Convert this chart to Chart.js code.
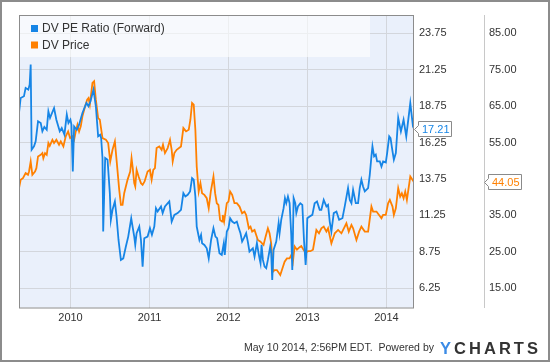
<!DOCTYPE html>
<html>
<head>
<meta charset="utf-8">
<title>DV PE Ratio (Forward) / DV Price</title>
<script src="https://cdn.jsdelivr.net/npm/chart.js@4.4.0/dist/chart.umd.min.js"></script>
<style>
  html, body { margin: 0; padding: 0; background: #fff; }
  #wrap { width: 550px; height: 362px; }
</style>
</head>
<body>
<div id="wrap"><canvas id="grafico" width="550" height="362"></canvas></div>
<script>
// ========== Dados ==========

// datas em anos decimais (2010.0 = 1 jan 2010)
const peDates = [2009.348,2009.369,2009.411,2009.432,2009.466,2009.483,2009.496,2009.508,2009.538,2009.559,2009.589,2009.623,2009.644,2009.669,2009.699,2009.720,2009.741,2009.792,2009.821,2009.864,2009.889,2009.923,2009.953,2009.974,2009.999,2010.012,2010.029,2010.046,2010.080,2010.109,2010.151,2010.202,2010.228,2010.253,2010.291,2010.321,2010.350,2010.376,2010.388,2010.405,2010.414,2010.439,2010.469,2010.498,2010.511,2010.532,2010.562,2010.583,2010.608,2010.638,2010.668,2010.701,2010.731,2010.769,2010.786,2010.807,2010.820,2010.837,2010.871,2010.892,2010.913,2010.934,2010.976,2011.006,2011.031,2011.061,2011.082,2011.103,2011.146,2011.167,2011.196,2011.251,2011.281,2011.315,2011.357,2011.399,2011.429,2011.454,2011.484,2011.514,2011.539,2011.560,2011.581,2011.598,2011.632,2011.653,2011.666,2011.695,2011.725,2011.750,2011.780,2011.810,2011.835,2011.856,2011.886,2011.915,2011.941,2011.953,2011.979,2012.000,2012.021,2012.047,2012.076,2012.106,2012.131,2012.152,2012.173,2012.195,2012.224,2012.245,2012.266,2012.288,2012.309,2012.330,2012.360,2012.381,2012.393,2012.406,2012.419,2012.436,2012.457,2012.478,2012.499,2012.529,2012.541,2012.554,2012.571,2012.605,2012.635,2012.647,2012.668,2012.698,2012.715,2012.732,2012.753,2012.774,2012.795,2012.808,2012.825,2012.846,2012.859,2012.880,2012.910,2012.935,2012.956,2012.977,2012.986,2012.998,2013.028,2013.062,2013.091,2013.121,2013.155,2013.176,2013.206,2013.240,2013.261,2013.282,2013.303,2013.333,2013.367,2013.401,2013.443,2013.472,2013.514,2013.536,2013.557,2013.578,2013.612,2013.641,2013.662,2013.683,2013.704,2013.726,2013.768,2013.789,2013.810,2013.823,2013.844,2013.865,2013.882,2013.916,2013.937,2013.958,2013.992,2014.009,2014.035,2014.052,2014.077,2014.094,2014.119,2014.149,2014.183,2014.217,2014.251,2014.302,2014.336,2014.349];
const peValues = [18.28,19.31,19.43,20.00,19.88,20.23,21.60,15.76,15.99,16.33,17.71,17.59,17.02,17.32,17.13,18.39,17.94,18.62,17.82,17.02,17.25,16.79,18.17,17.59,17.82,17.48,14.27,17.36,17.13,17.48,18.28,18.97,18.74,19.08,19.88,18.74,16.68,16.79,16.56,15.19,10.15,15.19,15.07,12.78,10.95,11.64,12.21,11.18,9.57,8.20,8.31,9.12,9.80,11.06,10.49,9.80,9.23,10.03,10.49,9.57,7.74,9.69,9.80,10.38,9.92,10.49,11.75,11.52,11.87,11.41,11.87,12.21,10.83,11.29,11.41,11.64,12.78,12.55,12.67,12.90,13.81,13.70,12.55,10.49,9.57,9.92,9.35,9.23,9.00,8.31,9.57,10.38,9.80,9.69,8.66,8.54,9.35,8.54,10.15,10.38,11.06,10.83,10.72,10.83,10.38,10.03,9.46,9.69,10.03,9.46,8.77,8.89,9.00,8.43,9.35,8.66,8.31,7.97,9.23,8.20,7.74,7.63,8.20,9.12,8.66,6.83,8.89,9.46,10.72,10.03,10.95,11.75,12.44,12.09,12.55,12.09,9.92,7.51,12.44,12.09,11.41,11.87,12.09,11.98,9.57,7.86,8.66,11.06,11.18,11.29,12.09,12.21,11.64,11.64,12.32,11.87,11.98,10.83,10.15,11.41,11.52,10.95,11.06,11.87,13.13,12.32,12.09,13.01,12.09,12.09,13.13,13.70,13.24,12.90,13.13,14.04,15.30,15.99,15.30,15.42,14.96,14.96,14.61,14.96,14.89,15.53,16.68,16.56,15.65,15.07,15.53,17.94,17.01,17.82,16.67,18.96,17.36,17.21];

const priceDates = [2009.348,2009.369,2009.398,2009.432,2009.462,2009.475,2009.496,2009.517,2009.551,2009.568,2009.589,2009.623,2009.644,2009.656,2009.678,2009.699,2009.720,2009.737,2009.771,2009.792,2009.821,2009.855,2009.877,2009.910,2009.940,2009.970,2009.995,2010.024,2010.046,2010.067,2010.088,2010.109,2010.130,2010.151,2010.185,2010.211,2010.228,2010.245,2010.278,2010.299,2010.321,2010.350,2010.371,2010.405,2010.448,2010.477,2010.503,2010.532,2010.562,2010.583,2010.617,2010.638,2010.659,2010.680,2010.722,2010.756,2010.773,2010.786,2010.807,2010.820,2010.837,2010.862,2010.892,2010.913,2010.938,2010.976,2011.006,2011.027,2011.048,2011.069,2011.090,2011.124,2011.154,2011.171,2011.196,2011.230,2011.260,2011.281,2011.294,2011.315,2011.344,2011.399,2011.429,2011.463,2011.497,2011.518,2011.539,2011.560,2011.581,2011.598,2011.623,2011.645,2011.666,2011.695,2011.725,2011.750,2011.776,2011.810,2011.831,2011.852,2011.873,2011.894,2011.920,2011.928,2011.945,2011.979,2012.000,2012.021,2012.047,2012.076,2012.106,2012.140,2012.173,2012.203,2012.224,2012.258,2012.279,2012.300,2012.330,2012.372,2012.406,2012.444,2012.470,2012.499,2012.520,2012.541,2012.563,2012.584,2012.613,2012.656,2012.690,2012.711,2012.740,2012.774,2012.795,2012.816,2012.838,2012.867,2012.901,2012.922,2012.952,2012.977,2013.007,2013.037,2013.070,2013.091,2013.113,2013.146,2013.176,2013.206,2013.240,2013.261,2013.303,2013.346,2013.388,2013.430,2013.493,2013.523,2013.557,2013.578,2013.620,2013.654,2013.683,2013.726,2013.768,2013.810,2013.831,2013.874,2013.937,2013.958,2013.992,2014.021,2014.043,2014.077,2014.094,2014.119,2014.149,2014.174,2014.195,2014.217,2014.238,2014.259,2014.302,2014.344,2014.349];
const priceValues = [42.48,44.77,45.23,46.61,46.15,47.06,49.81,46.15,47.06,47.98,51.19,51.65,52.11,50.73,52.11,51.65,54.86,54.12,55.77,54.86,55.77,54.40,55.31,53.94,56.69,58.06,56.23,56.69,55.77,58.06,59.90,58.06,59.44,62.19,64.94,66.77,67.23,65.40,71.35,71.81,66.77,61.73,61.27,56.23,55.77,54.86,49.81,53.02,55.31,50.27,42.02,37.90,37.90,41.11,44.77,47.06,50.73,48.44,43.86,42.94,47.52,45.69,43.86,43.40,44.32,47.06,47.52,44.77,47.52,47.98,53.48,53.94,53.02,54.40,52.11,53.48,55.77,53.02,49.81,52.11,53.02,53.94,58.98,58.06,58.52,61.27,65.86,65.40,58.52,48.44,41.56,43.86,41.11,40.65,39.73,36.98,41.56,45.69,41.11,38.36,37.90,33.77,33.32,35.15,33.32,38.36,38.82,41.56,40.65,38.36,38.36,37.44,35.61,36.07,35.15,31.48,31.94,30.57,31.02,28.27,27.82,26.90,29.19,31.48,30.11,27.36,19.57,20.03,20.03,18.65,20.94,22.32,23.23,23.23,24.15,22.32,26.50,25.60,26.30,26.60,25.50,24.80,25.20,25.20,25.60,28.27,31.02,30.11,31.48,31.94,30.57,31.48,27.36,30.11,31.02,30.11,32.86,30.57,32.40,31.48,28.27,30.57,31.94,30.57,30.57,37.44,36.07,36.07,34.23,35.15,35.15,38.36,39.27,37.44,35.15,36.98,42.48,40.19,41.10,39.73,41.56,39.27,45.68,44.31,44.05];

const seriesNames = ['DV PE Ratio (Forward)', 'DV Price'];
const seriesColors = ['#1685e6', '#ff8000'];

const yearTicks = [2010, 2011, 2012, 2013, 2014];
const yearLabels = ['2010', '2011', '2012', '2013', '2014'];
const peTicks = [6.25, 8.75, 11.25, 13.75, 16.25, 18.75, 21.25, 23.75];
const priceTicks = [15, 25, 35, 45, 55, 65, 75, 85];

const footerText = 'May 10 2014, 2:56PM EDT.  Powered by';
const logoText = 'YCHARTS';

// ========== Desenho auxiliar ==========

const FONTE = '"Liberation Sans", Arial, sans-serif';
Chart.defaults.font.family = FONTE;

function toPoints(xs, ys) {
  return xs.map((x, i) => ({ x: x, y: ys[i] }));
}

// etiqueta com seta apontando para a esquerda
function desenharEtiqueta(ctx, xTip, yValor, texto, cor) {
  const yc = Math.round(yValor) + 0.5;
  const bx = Math.round(xTip) + 4.5;
  const w = 33;
  const topo = yc - 8, base = yc + 7;
  ctx.save();
  ctx.beginPath();
  ctx.moveTo(bx - 4, yc);
  ctx.lineTo(bx, yc - 4);
  ctx.lineTo(bx, topo);
  ctx.lineTo(bx + w, topo);
  ctx.lineTo(bx + w, base);
  ctx.lineTo(bx, base);
  ctx.lineTo(bx, yc + 4);
  ctx.closePath();
  ctx.fillStyle = '#ffffff';
  ctx.fill();
  ctx.strokeStyle = '#8a8a8a';
  ctx.lineWidth = 1;
  ctx.stroke();
  ctx.fillStyle = cor;
  ctx.font = '11px ' + FONTE;
  ctx.textAlign = 'left';
  ctx.textBaseline = 'middle';
  ctx.fillText(texto, bx + 3.5, yc);
  ctx.restore();
}

const fundoPlugin = {
  id: 'fundo',
  beforeDraw(chart) {
    const { ctx, chartArea: a } = chart;
    ctx.save();
    ctx.fillStyle = '#ffffff';
    ctx.fillRect(0, 0, chart.width, chart.height);
    ctx.fillStyle = '#eaf0fb';
    ctx.fillRect(a.left, a.top, a.right - a.left, a.bottom - a.top);
    ctx.restore();
  },
  beforeDatasetsDraw(chart) {
    // caixa da legenda dentro da area do grafico
    const { ctx, chartArea: a } = chart;
    ctx.save();
    ctx.fillStyle = 'rgba(255,255,255,0.6)';
    ctx.fillRect(a.left, a.top, 370 - a.left, 42);
    ctx.font = '12px ' + FONTE;
    ctx.textBaseline = 'middle';
    ctx.textAlign = 'left';
    chart.data.datasets.forEach((ds, i) => {
      const y = a.top + 10 + i * 16.5;
      ctx.fillStyle = ds.borderColor;
      ctx.fillRect(31, y, 7, 7);
      ctx.fillStyle = '#333333';
      ctx.fillText(ds.label, 42, y + 4);
    });
    ctx.restore();
  },
  afterDraw(chart) {
    const { ctx, chartArea: a } = chart;
    ctx.save();
    // moldura da area do grafico
    ctx.strokeStyle = '#8c8c8c';
    ctx.lineWidth = 1;
    ctx.strokeRect(a.left + 0.5, a.top + 0.5, a.right - a.left - 1, a.bottom - a.top);

    // etiquetas do ultimo valor
    const yPe = chart.scales.y;
    const yPrice = chart.scales.y1;
    const ultPe = peValues[peValues.length - 1];
    const ultPrice = priceValues[priceValues.length - 1];
    desenharEtiqueta(ctx, a.right, yPe.getPixelForValue(ultPe), ultPe.toFixed(2), seriesColors[0]);
    desenharEtiqueta(ctx, yPrice.left, yPrice.getPixelForValue(ultPrice), ultPrice.toFixed(2), seriesColors[1]);

    // rodape
    ctx.fillStyle = '#333333';
    ctx.font = '11px ' + FONTE;
    ctx.textAlign = 'right';
    ctx.textBaseline = 'middle';
    ctx.fillText(footerText, 434, 348, 190);

    // logo
    ctx.font = 'bold 16.5px ' + FONTE;
    ctx.textAlign = 'left';
    ctx.textBaseline = 'alphabetic';
    const larguras = logoText.split('').map(c => ctx.measureText(c).width);
    const soma = larguras.reduce((s, v) => s + v, 0);
    const gap = (98 - soma) / (logoText.length - 1);
    let x = 440;
    logoText.split('').forEach((c, i) => {
      ctx.fillStyle = i === 0 ? '#3b8be6' : '#333333';
      ctx.fillText(c, x, 354);
      x += larguras[i] + gap;
    });

    // borda externa
    ctx.strokeStyle = '#8c8c8c';
    ctx.lineWidth = 2;
    ctx.strokeRect(1, 1, chart.width - 2, chart.height - 2);
    ctx.restore();
  }
};

// ========== Grafico ==========

function desenharGrafico() {
  const ctx = document.getElementById('grafico');

  window.chartInstance = new Chart(ctx, {
    type: 'line',
    data: {
      datasets: [
        {
          label: seriesNames[0],
          data: toPoints(peDates, peValues),
          yAxisID: 'y',
          borderColor: seriesColors[0],
          backgroundColor: seriesColors[0],
          borderWidth: 1.8,
          pointRadius: 0,
          tension: 0,
          fill: false
        },
        {
          label: seriesNames[1],
          data: toPoints(priceDates, priceValues),
          yAxisID: 'y1',
          borderColor: seriesColors[1],
          backgroundColor: seriesColors[1],
          borderWidth: 1.8,
          pointRadius: 0,
          tension: 0,
          fill: false
        }
      ]
    },
    options: {
      responsive: false,
      animation: false,
      layout: { padding: { left: 19, top: 15, right: 0, bottom: 0 } },
      plugins: {
        legend: { display: false },
        tooltip: { enabled: false }
      },
      scales: {
        x: {
          type: 'linear',
          min: peDates[0],
          max: peDates[peDates.length - 1],
          afterBuildTicks: s => { s.ticks = yearTicks.map(v => ({ value: v })); },
          afterFit: s => { s.height = 54.5; },
          ticks: {
            padding: 4,
            color: '#333333',
            font: { size: 11 },
            maxRotation: 0,
            autoSkip: false,
            callback: v => yearLabels[yearTicks.indexOf(v)]
          },
          grid: { color: '#d3d6dc', drawTicks: false },
          border: { display: false }
        },
        y: {
          type: 'linear',
          position: 'right',
          min: 4.9375,
          max: 25,
          afterBuildTicks: s => { s.ticks = peTicks.map(v => ({ value: v })); },
          afterFit: s => { s.width = 70; },
          ticks: {
            padding: 5,
            color: '#333333',
            font: { size: 11 },
            callback: v => Number(v).toFixed(2)
          },
          grid: { color: '#d3d6dc', drawTicks: false },
          border: { display: false }
        },
        y1: {
          type: 'linear',
          position: 'right',
          min: 9.75,
          max: 90,
          afterBuildTicks: s => { s.ticks = priceTicks.map(v => ({ value: v })); },
          afterFit: s => { s.width = 66; },
          ticks: {
            padding: 5,
            color: '#333333',
            font: { size: 11 },
            callback: v => Number(v).toFixed(2)
          },
          grid: { display: false, drawOnChartArea: false, drawTicks: false },
          border: { display: true, color: '#c8c8c8', width: 1 }
        }
      }
    },
    plugins: [fundoPlugin]
  });
}

desenharGrafico();
</script>
</body>
</html>
